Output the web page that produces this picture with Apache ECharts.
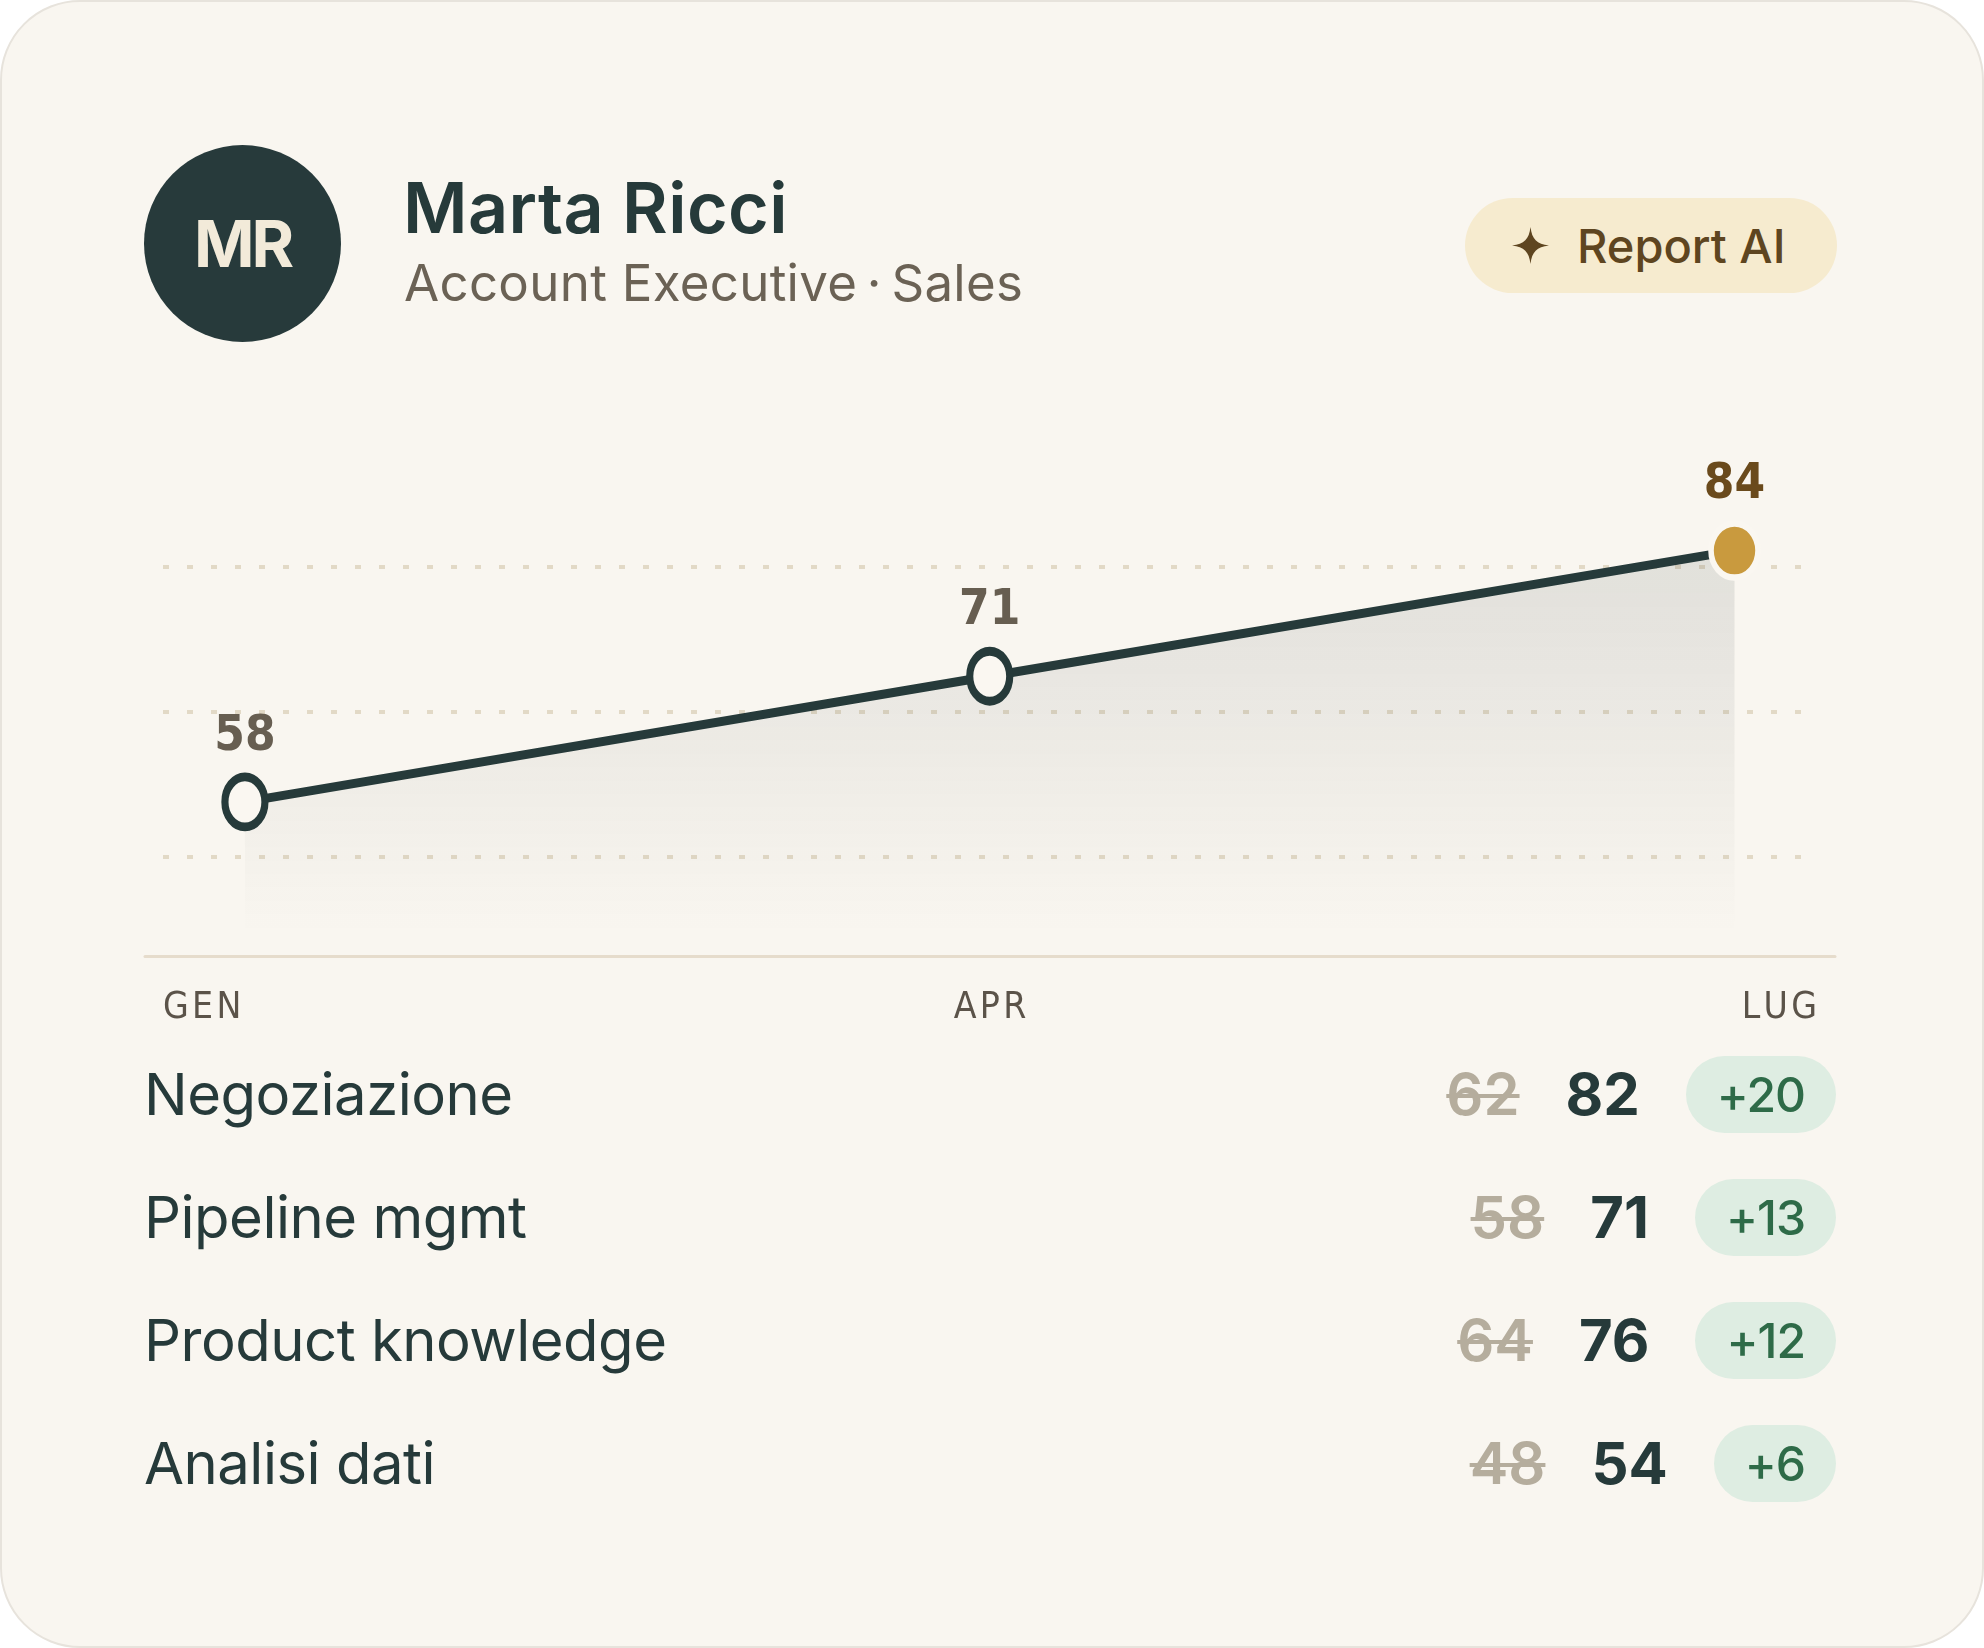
<!DOCTYPE html>
<html>
<head>
<meta charset="utf-8">
<title>Marta Ricci</title>
<script src="https://cdn.jsdelivr.net/npm/echarts@6/dist/echarts.min.js"></script>
<style>
  html, body { margin: 0; padding: 0; background: #ffffff; }
  body { width: 1984px; height: 1648px; position: relative; overflow: hidden; font-family: Inter, 'Noto Sans', sans-serif; }
  #card { position: absolute; left: 0; top: 0; width: 1984px; height: 1648px; box-sizing: border-box;
          border: 2px solid #e7e3dc; border-radius: 80px; background: #f9f6f0; }
  #trendChart { position: absolute; left: 0; top: 0; width: 1984px; height: 1648px; }
  .avatar { position: absolute; left: 144px; top: 145px; width: 197px; height: 197px; border-radius: 50%;
            background: #273a3b; color: #f2ead9; display: flex; align-items: center; justify-content: center;
            font-weight: 700; font-size: 65px; letter-spacing: -3px; }
  .name { position: absolute; left: 403px; top: 173px; font-size: 70px; line-height: 70px; font-weight: 600;
          letter-spacing: 0.4px; color: #263a3a; white-space: nowrap; }
  .role { position: absolute; left: 404px; top: 257px; font-size: 51px; line-height: 51px; font-weight: 400;
          color: #6b6255; white-space: nowrap; letter-spacing: 0.3px; }
  .pill { position: absolute; left: 1465px; top: 198px; width: 372px; height: 95px; border-radius: 48px;
          background: #f6ebcf; color: #5e4520; display: flex; align-items: center; box-sizing: border-box;
          padding-left: 47px; font-size: 47px; font-weight: 500; }
  .pill svg { width: 37px; height: 37px; margin-right: 28px; }
  .row { position: absolute; left: 144px; right: 148px; height: 80px; display: flex; align-items: center;
         justify-content: space-between; }
  .skill { font-size: 58px; line-height: 80px; color: #263a3a; font-weight: 400; white-space: nowrap;
           letter-spacing: -0.5px; }
  .nums { display: flex; align-items: center; gap: 46px; }
  .old { font-size: 58px; font-weight: 600; color: #b5ad9d; text-decoration: line-through;
         text-decoration-thickness: 4px; text-decoration-color: #b5ad9d; }
  .new { font-size: 58px; font-weight: 700; color: #263a3a; }
  .delta { height: 77px; border-radius: 39px; background: #deede2; color: #2e6b48; padding: 0 31px;
           display: inline-flex; align-items: center; font-size: 48px; font-weight: 500; letter-spacing: -1px; }
</style>
</head>
<body>
<div id="card"></div>
<div id="trendChart"></div>
<div class="avatar">MR</div>
<div class="name">Marta Ricci</div>
<div class="role">Account Executive&#8201;·&#8201;Sales</div>
<div class="pill">
  <svg viewBox="0 0 24 24"><path d="M12 0 C13 8 16 11 24 12 C16 13 13 16 12 24 C11 16 8 13 0 12 C8 11 11 8 12 0 Z" fill="#5e4520"/></svg>
  <span>Report AI</span>
</div>
<div id="skills"></div>
<script>
// months on the x axis and the overall score line
const months = ['GEN', 'APR', 'LUG'];
const scores = [58, 71, 84];

// skill table
const skills = ['Negoziazione', 'Pipeline mgmt', 'Product knowledge', 'Analisi dati'];
const scoreBefore = [62, 58, 64, 48];
const scoreAfter = [82, 71, 76, 54];
const scoreDelta = [20, 13, 12, 6];

const ink = '#263a3a';
const cardBg = '#faf7f1';
const condensed = "'DejaVu Sans Condensed', 'Liberation Sans Narrow', Inter, sans-serif";

const trendChart = echarts.init(document.getElementById('trendChart'));

const lineData = scores.map((v, i) => {
    const last = i === scores.length - 1;
    if (!last) return { value: [i, v] };
    return {
        value: [i, v],
        symbolSize: [47, 54],
        itemStyle: { color: '#c99a3e', borderColor: cardBg, borderWidth: 6 },
        label: { color: '#6a4a1c' }
    };
});

trendChart.setOption({
    backgroundColor: 'transparent',
    animation: false,
    grid: [
        { left: 163, right: 175, top: 422, bottom: 646, outerBoundsMode: 'none' },
        { left: 145, right: 149, top: 900, bottom: 692, outerBoundsMode: 'none' }
    ],
    xAxis: [
        { gridIndex: 0, type: 'value', min: -0.11, max: 2.1, show: false },
        {
            gridIndex: 1, type: 'category', data: months, boundaryGap: false,
            axisLine: { show: true, lineStyle: { color: '#e6dccc', width: 3 } },
            axisTick: { show: false },
            splitLine: { show: false },
            axisLabel: {
                margin: 34,
                fontFamily: condensed, fontSize: 37, lineHeight: 37, color: '#5b5349',
                padding: [0, 18, 0, 18],
                alignMinLabel: 'left', alignMaxLabel: 'right',
                formatter: (v) => v.split('').join('\u200a')
            }
        }
    ],
    yAxis: [
        { gridIndex: 0, type: 'value', min: 37.3, max: 97.3, show: false },
        {
            gridIndex: 0, type: 'value', min: 0, max: 4, interval: 1, position: 'right',
            axisLine: { show: false }, axisTick: { show: false }, axisLabel: { show: false },
            splitLine: {
                show: true, showMinLine: false, showMaxLine: false,
                lineStyle: { color: '#e2d9c6', width: 4, type: [6, 18] }
            }
        },
        { gridIndex: 1, type: 'value', show: false }
    ],
    series: [{
        type: 'line',
        xAxisIndex: 0,
        yAxisIndex: 0,
        data: lineData,
        symbol: 'circle',
        symbolSize: [40, 50],
        lineStyle: { color: ink, width: 9 },
        itemStyle: { color: cardBg, borderColor: ink, borderWidth: 8 },
        label: {
            show: true, position: 'top', distance: 11,
            formatter: (p) => p.value[1],
            fontFamily: condensed, fontSize: 49, lineHeight: 49, fontWeight: 'bold', color: '#675e51'
        },
        areaStyle: {
            color: new echarts.graphic.LinearGradient(0, 0, 0, 1, [
                { offset: 0, color: 'rgba(40, 52, 52, 0.16)' },
                { offset: 0.85, color: 'rgba(40, 52, 52, 0)' }
            ])
        },
        z: 3
    }]
});

// skill rows under the chart
const rowCenters = [1094, 1217, 1340, 1463];
const holder = document.getElementById('skills');
skills.forEach((name, i) => {
    const row = document.createElement('div');
    row.className = 'row';
    row.style.top = (rowCenters[i] - 40) + 'px';
    row.innerHTML =
        '<span class="skill">' + name + '</span>' +
        '<span class="nums">' +
            '<span class="old">' + scoreBefore[i] + '</span>' +
            '<span class="new">' + scoreAfter[i] + '</span>' +
            '<span class="delta">+' + scoreDelta[i] + '</span>' +
        '</span>';
    holder.appendChild(row);
});
</script>
</body>
</html>
